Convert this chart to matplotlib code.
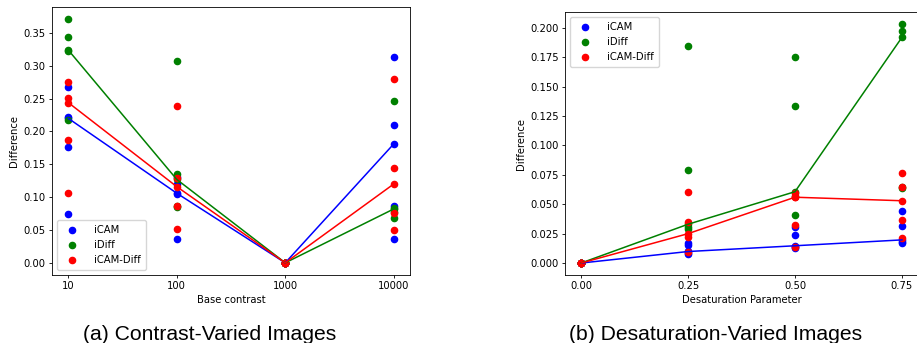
import matplotlib.pyplot as plt

# (a) contrast-varied images
contrast_labels = ['10', '100', '1000', '10000']
contrast_icam = [
    [0.268, 0.222, 0.220, 0.176, 0.074],
    [0.131, 0.120, 0.106, 0.105, 0.036],
    [0.0, 0.0, 0.0, 0.0, 0.0],
    [0.314, 0.210, 0.181, 0.087, 0.036],
]
contrast_idiff = [
    [0.371, 0.344, 0.324, 0.323, 0.218],
    [0.307, 0.136, 0.127, 0.086, 0.085],
    [0.0, 0.0, 0.0, 0.0, 0.0],
    [0.246, 0.083, 0.082, 0.078, 0.068],
]
contrast_icamdiff = [
    [0.276, 0.251, 0.244, 0.187, 0.107],
    [0.239, 0.129, 0.116, 0.087, 0.052],
    [0.0, 0.0, 0.0, 0.0, 0.0],
    [0.280, 0.144, 0.120, 0.076, 0.050],
]
contrast_line_icam = [0.220, 0.106, 0.0, 0.181]
contrast_line_idiff = [0.324, 0.127, 0.0, 0.082]
contrast_line_icamdiff = [0.244, 0.116, 0.0, 0.120]

# (b) desaturation-varied images
desat_params = [0.0, 0.25, 0.50, 0.75]
desat_icam = [
    [0.0, 0.0, 0.0, 0.0, 0.0],
    [0.017, 0.015, 0.010, 0.0085, 0.008],
    [0.031, 0.024, 0.0147, 0.0135, 0.013],
    [0.0446, 0.0314, 0.0197, 0.0178, 0.0167],
]
desat_idiff = [
    [0.0, 0.0, 0.0, 0.0, 0.0],
    [0.1844, 0.079, 0.033, 0.0305, 0.029],
    [0.1757, 0.1333, 0.0607, 0.057, 0.041],
    [0.2034, 0.1971, 0.192, 0.065, 0.064],
]
desat_icamdiff = [
    [0.0, 0.0, 0.0, 0.0, 0.0],
    [0.0604, 0.0353, 0.025, 0.0225, 0.009],
    [0.060, 0.0565, 0.056, 0.0325, 0.014],
    [0.0768, 0.065, 0.053, 0.0367, 0.0212],
]
desat_line_icam = [0.0, 0.0098, 0.0147, 0.0197]
desat_line_idiff = [0.0, 0.033, 0.0607, 0.192]
desat_line_icamdiff = [0.0, 0.025, 0.056, 0.053]

W, H = 917, 343
fig = plt.figure(figsize=(W / 100, H / 100), dpi=100)

FS = 7.2
MS = 20
LW = 1.1


def px_axes(left, top, right, bottom):
    return fig.add_axes([left / W, 1 - bottom / H, (right - left) / W, (bottom - top) / H])


def draw(ax, xs, groups, lines, legend_loc):
    names = ['iCAM', 'iDiff', 'iCAM-Diff']
    colors = ['blue', 'green', 'red']
    for name, color, pts in zip(names, colors, groups):
        px, py = [], []
        for x, vals in zip(xs, pts):
            px += [x] * len(vals)
            py += vals
        ax.scatter(px, py, s=MS, color=color, label=name, zorder=2)
    for color, ln in zip(colors, lines):
        ax.plot(xs, ln, color=color, linewidth=LW, zorder=3)
    ax.tick_params(labelsize=FS, length=2.5, width=0.6, pad=2)
    for s in ax.spines.values():
        s.set_linewidth(0.6)
    ax.set_ylabel('Difference', fontsize=FS, labelpad=3)
    ax.legend(loc=legend_loc, fontsize=FS, handletextpad=1.2, borderpad=0.5,
              labelspacing=0.5)


ax1 = px_axes(52, 7, 410, 275)
xpos = list(range(len(contrast_labels)))
draw(ax1, xpos, [contrast_icam, contrast_idiff, contrast_icamdiff],
     [contrast_line_icam, contrast_line_idiff, contrast_line_icamdiff], 'lower left')
ax1.set_xticks(xpos)
ax1.set_xticklabels(contrast_labels)
ax1.set_xlabel('Base contrast', fontsize=FS, labelpad=3)

ax2 = px_axes(565, 12, 918, 275)
draw(ax2, desat_params, [desat_icam, desat_idiff, desat_icamdiff],
     [desat_line_icam, desat_line_idiff, desat_line_icamdiff], 'upper left')
ax2.set_xticks(desat_params)
ax2.set_xlabel('Desaturation Parameter', fontsize=FS, labelpad=3)

fig.text(210 / W, 1 - 340 / H, '(a) Contrast-Varied Images', ha='center', va='baseline',
         fontsize=15.2, family='Liberation Sans')
fig.text(716 / W, 1 - 340 / H, '(b) Desaturation-Varied Images', ha='center', va='baseline',
         fontsize=15.2, family='Liberation Sans')

fig.savefig('out.png', dpi=100)
